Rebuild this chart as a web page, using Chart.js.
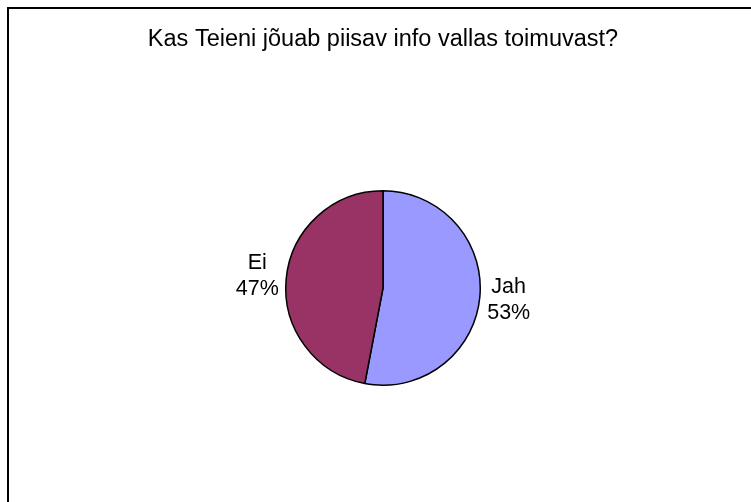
<!DOCTYPE html>
<html>
<head>
<meta charset="utf-8">
<script src="https://cdn.jsdelivr.net/npm/chart.js@4/dist/chart.umd.min.js"></script>
<style>
  html, body { margin: 0; padding: 0; background: #fff; overflow: hidden; }
  #wrap { position: relative; width: 751px; height: 502px; }
  #frame { position: absolute; left: 7px; top: 7px; width: 900px; height: 700px;
           border: 2px solid #000; box-sizing: border-box; pointer-events: none; }
  canvas { position: absolute; left: 0; top: 0; }
</style>
</head>
<body>
<div id="wrap">
  <canvas id="Chart" width="751" height="502"></canvas>
  <div id="frame"></div>
</div>
<script>
// andmed
var labels = ['Jah', 'Ei'];
var values = [53, 47];
var colors = ['#9999FF', '#993366'];
var title = 'Kas Teieni jõuab piisav info vallas toimuvast?';

var fontFamily = '"Liberation Sans", Arial, sans-serif';

// pealkiri (Chart.js title pressiks teksti kitsaks, sest polsterdus on suur)
var titlePlugin = {
  id: 'titlePlugin',
  afterDraw: function (chart) {
    var ctx = chart.ctx;
    ctx.save();
    ctx.fillStyle = '#000';
    ctx.font = '23.5px ' + fontFamily;
    ctx.textAlign = 'center';
    ctx.textBaseline = 'alphabetic';
    ctx.fillText(title, 383, 45.5);
    ctx.restore();
  }
};

// sildid väljaspool sektoreid
var outsideLabels = {
  id: 'outsideLabels',
  afterDatasetsDraw: function (chart) {
    var ctx = chart.ctx;
    var meta = chart.getDatasetMeta(0);
    var total = values.reduce(function (a, b) { return a + b; }, 0);
    ctx.save();
    ctx.fillStyle = '#000';
    ctx.font = '21.5px ' + fontFamily;
    ctx.textAlign = 'center';
    ctx.textBaseline = 'middle';
    meta.data.forEach(function (arc, i) {
      var mid = (arc.startAngle + arc.endAngle) / 2;
      var r = arc.outerRadius + 29;
      var x = arc.x + Math.cos(mid) * r;
      var y = arc.y + Math.sin(mid) * r;
      var pct = Math.round(values[i] / total * 100) + '%';
      ctx.fillText(labels[i], x, y - 13);
      ctx.fillText(pct, x, y + 13);
    });
    ctx.restore();
  }
};

var ctx = document.getElementById('Chart').getContext('2d');
var myChart = new Chart(ctx, {
  type: 'pie',
  data: {
    labels: labels,
    datasets: [{
      data: values,
      backgroundColor: colors,
      borderColor: '#000',
      borderWidth: 1.5
    }]
  },
  options: {
    responsive: false,
    animation: false,
    layout: {
      padding: { left: 285, right: 270, top: 190, bottom: 116 }
    },
    plugins: {
      legend: { display: false },
      tooltip: { enabled: false },
      title: { display: false }
    }
  },
  plugins: [outsideLabels, titlePlugin]
});
</script>
</body>
</html>
